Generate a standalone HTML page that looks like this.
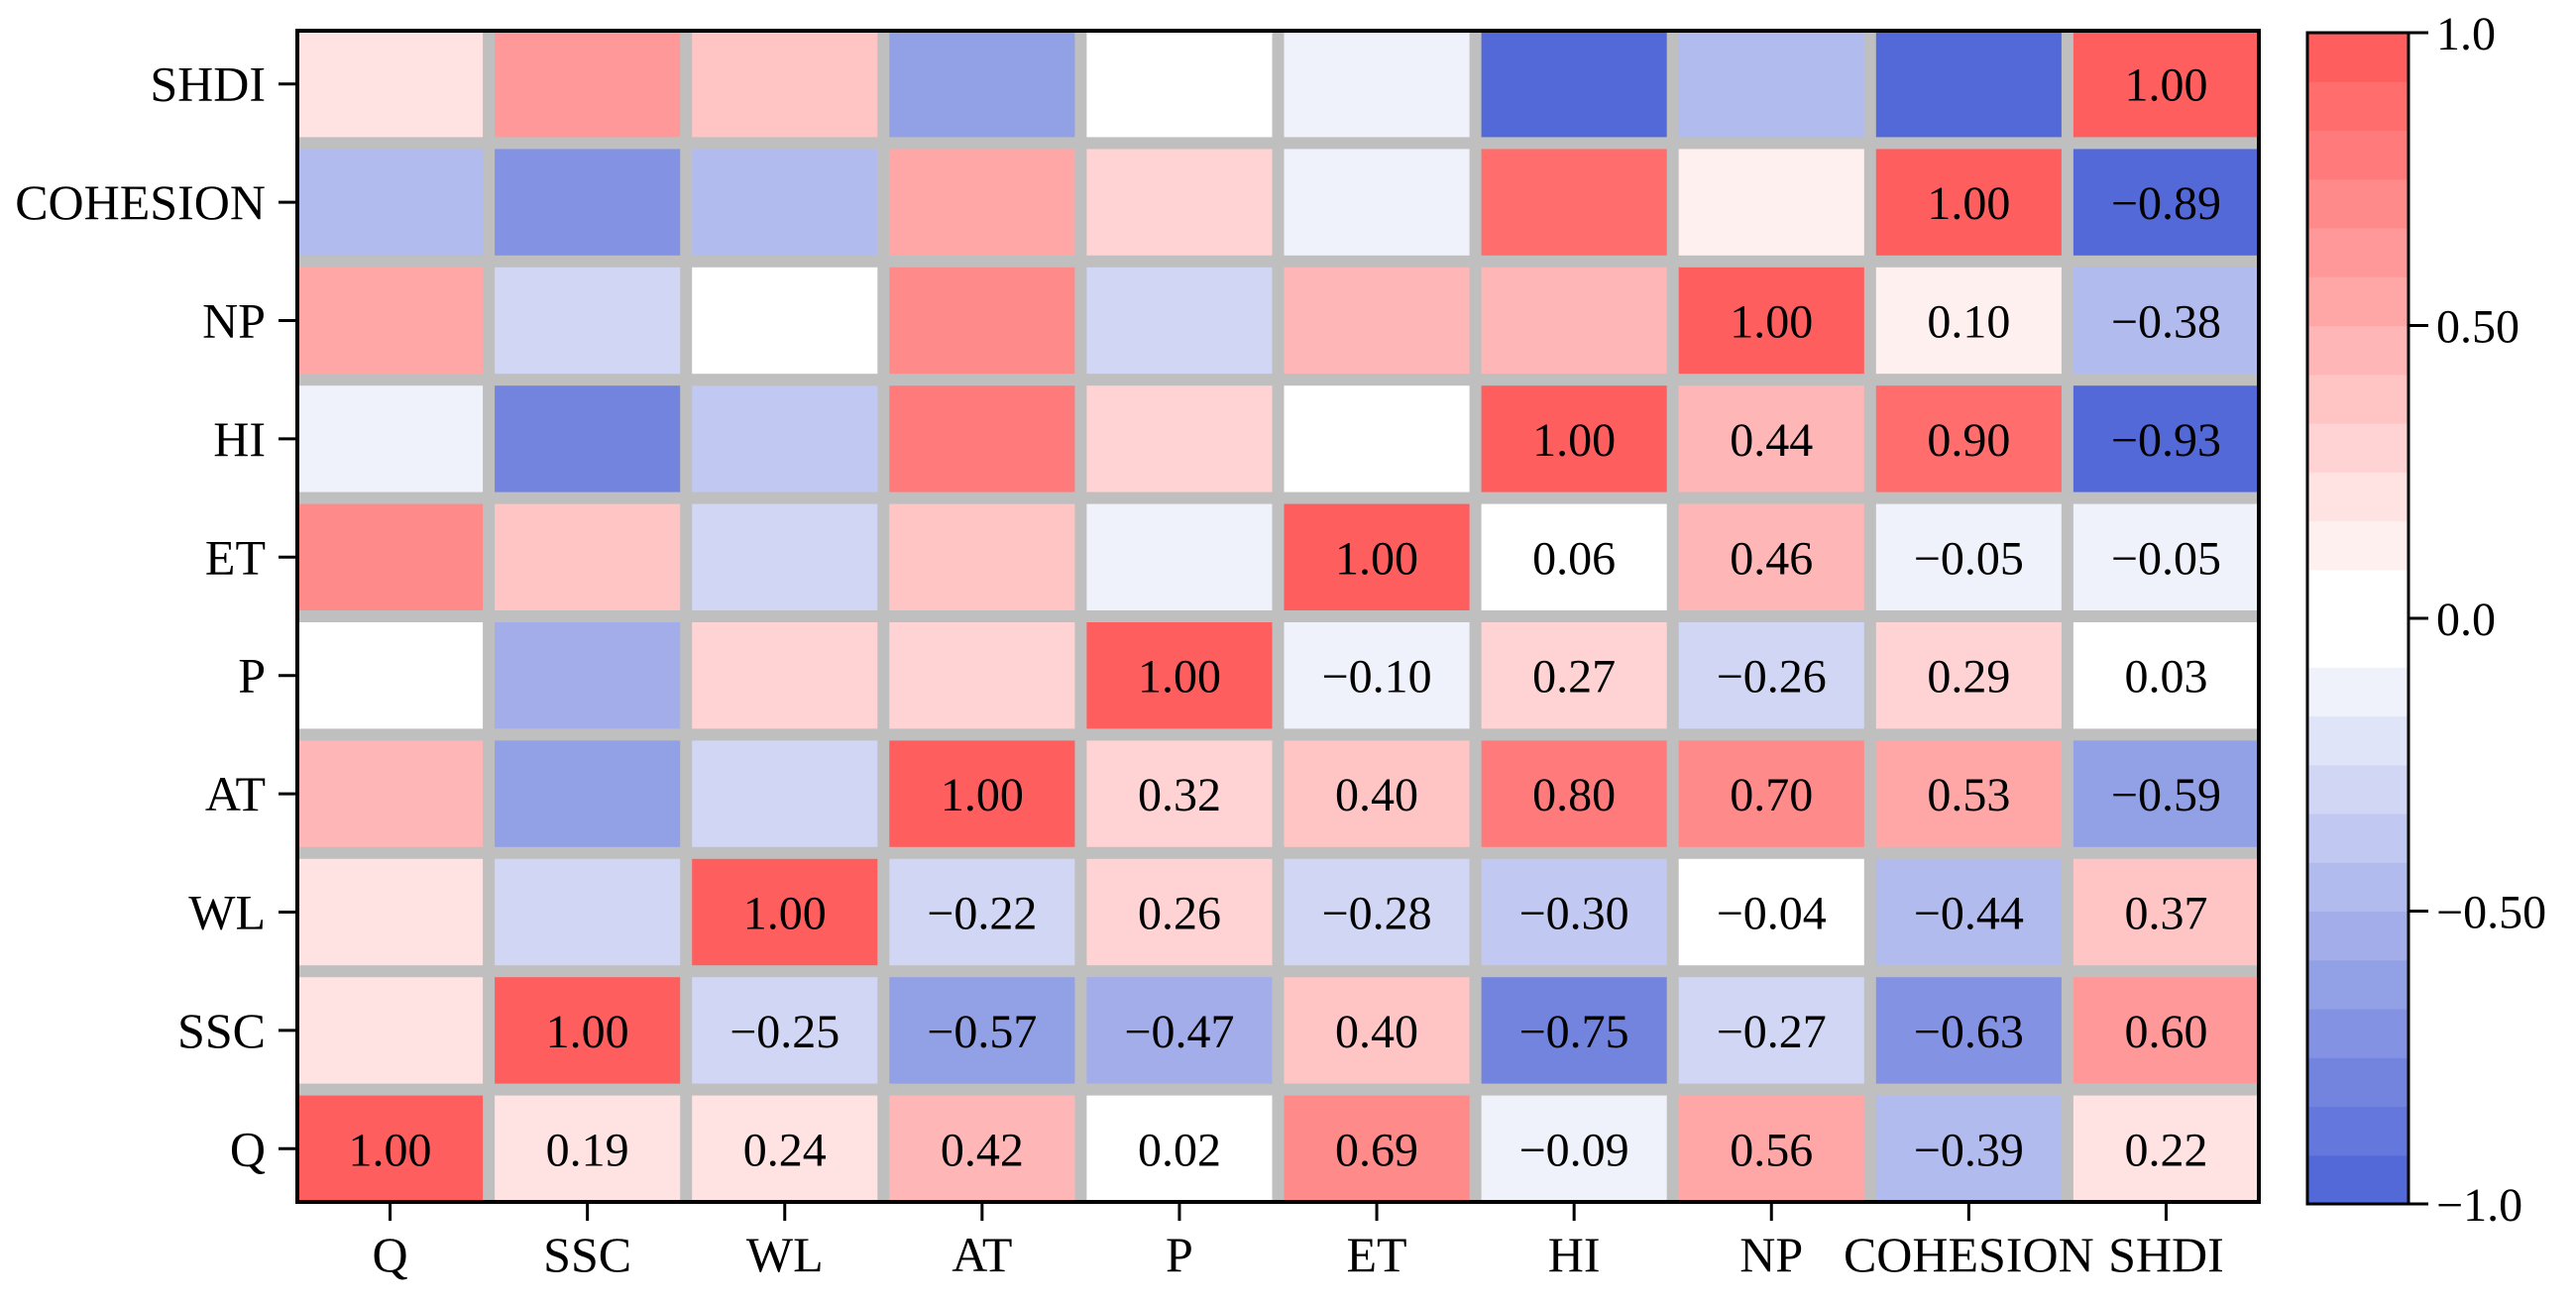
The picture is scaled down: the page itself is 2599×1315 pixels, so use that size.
<!DOCTYPE html>
<html><head><meta charset="utf-8">
<style>
html,body{margin:0;padding:0;background:#fff;}
svg text{font-family:"Liberation Serif",serif;fill:#000;}
</style></head>
<body>
<svg id="chart" width="2599" height="1310" viewBox="0 0 2599 1310" xmlns="http://www.w3.org/2000/svg"></svg>
<script>
const variables = ["Q","SSC","WL","AT","P","ET","HI","NP","COHESION","SHDI"];
// lower-triangle correlations, row i has values for columns 0..i-1
const lowerTriangle = [
  [],
  [0.19],
  [0.24,-0.25],
  [0.42,-0.57,-0.22],
  [0.02,-0.47,0.26,0.32],
  [0.69,0.40,-0.28,0.40,-0.10],
  [-0.09,-0.75,-0.30,0.80,0.27,0.06],
  [0.56,-0.27,-0.04,0.70,-0.26,0.46,0.44],
  [-0.39,-0.63,-0.44,0.53,0.29,-0.05,0.90,0.10],
  [0.22,0.60,0.37,-0.59,0.03,-0.05,-0.93,-0.38,-0.89]
];
const colorbarTicks = [1.0,0.5,0.0,-0.5,-1.0];
const colorbarTickLabels = ["1.0","0.50","0.0","\u22120.50","\u22121.0"];

const NS="http://www.w3.org/2000/svg";
const svg=document.getElementById('chart');
function mk(tag,attrs,parent){const e=document.createElementNS(NS,tag);for(const k in attrs)e.setAttribute(k,attrs[k]);(parent||svg).appendChild(e);return e;}

const L=300,R=2279,T=31,B=1213,gap=12;
const n=variables.length;
const pitchX=(R-L+gap)/n, pitchY=(B-T+gap)/n;
const cw=pitchX-gap, ch=pitchY-gap;
function colX(j){return L+j*pitchX;}
function rowY(i){return T+(n-1-i)*pitchY;}

const RED=[255,94,94], BLUE=[84,105,216];
function mix(c,t){
  const r=Math.round(255+(c[0]-255)*t),g=Math.round(255+(c[1]-255)*t),b=Math.round(255+(c[2]-255)*t);
  return `rgb(${r},${g},${b})`;
}
function colorFor(v){
  if(v>=-0.045 && v<1/12) return '#ffffff';
  if(v>0){let k=Math.floor(v*12); if(k>11)k=11; return mix(RED,k/11);}
  let m=Math.floor((-v+0.04)*12); if(m<1)m=1; if(m>11)m=11; return mix(BLUE,m/11);
}
function bandColor(k){ // colorbar band k=0..23 bottom to top
  if(k>=12) return mix(RED,(k-12)/11);
  return mix(BLUE,(11-k)/11);
}
function val(i,j){if(i===j)return 1;return i>j?lowerTriangle[i][j]:lowerTriangle[j][i];}
function fmt(v){return (v<0?"\u2212":"")+Math.abs(v).toFixed(2);}

const bg=mk('rect',{x:L,y:T,width:R-L,height:B-T,fill:'#bfbfbf'});



for(let i=0;i<n;i++){
  for(let j=0;j<n;j++){
    const v=val(i,j);
    const x=colX(j),y=rowY(i);
    const r=mk('rect',{x:x,y:y,width:cw,height:ch,fill:colorFor(v)});
    
    
    if(j>=i){
      const t=mk('text',{x:x+cw/2,y:y+ch/2+17,'font-size':48,'text-anchor':'middle'});
      t.textContent=fmt(v);
      
      
    }
  }
}
const frame=mk('rect',{x:L,y:T,width:R-L,height:B-T,fill:'none',stroke:'#000','stroke-width':4});



for(let j=0;j<n;j++){
  const cx=colX(j)+cw/2;
  const tk=mk('line',{x1:cx,y1:B,x2:cx,y2:B+19,stroke:'#000','stroke-width':3});
  
  
  const t=mk('text',{x:cx,y:1283,'font-size':50,'text-anchor':'middle'});
  t.textContent=variables[j];
  
  
}
for(let i=0;i<n;i++){
  const cy=rowY(i)+ch/2;
  const tk=mk('line',{x1:L-19,y1:cy,x2:L,y2:cy,stroke:'#000','stroke-width':3});
  
  
  const t=mk('text',{x:268,y:cy+17,'font-size':50,'text-anchor':'end'});
  t.textContent=variables[i];
  
  
}

// colorbar
const CL=2328,CR=2430,CT=33,CB=1215;
const g=mk('g',{});


const bh=(CB-CT)/24;
for(let k=0;k<24;k++){
  const b=mk('rect',{x:CL,y:CB-(k+1)*bh,width:CR-CL,height:bh+0.6,fill:bandColor(k)},g);
  
  
}
const cf=mk('rect',{x:CL,y:CT,width:CR-CL,height:CB-CT,fill:'none',stroke:'#000','stroke-width':3},g);


function cbY(v){return CB-(v+1)/2*(CB-CT);}
colorbarTicks.forEach((v,idx)=>{
  const y=cbY(v);
  const tk=mk('line',{x1:CR,y1:y,x2:CR+20,y2:y,stroke:'#000','stroke-width':3},g);
  
  
  const t=mk('text',{x:2458,y:y+17,'font-size':48},g);
  t.textContent=colorbarTickLabels[idx];
  
  
});
</script>
</body></html>
